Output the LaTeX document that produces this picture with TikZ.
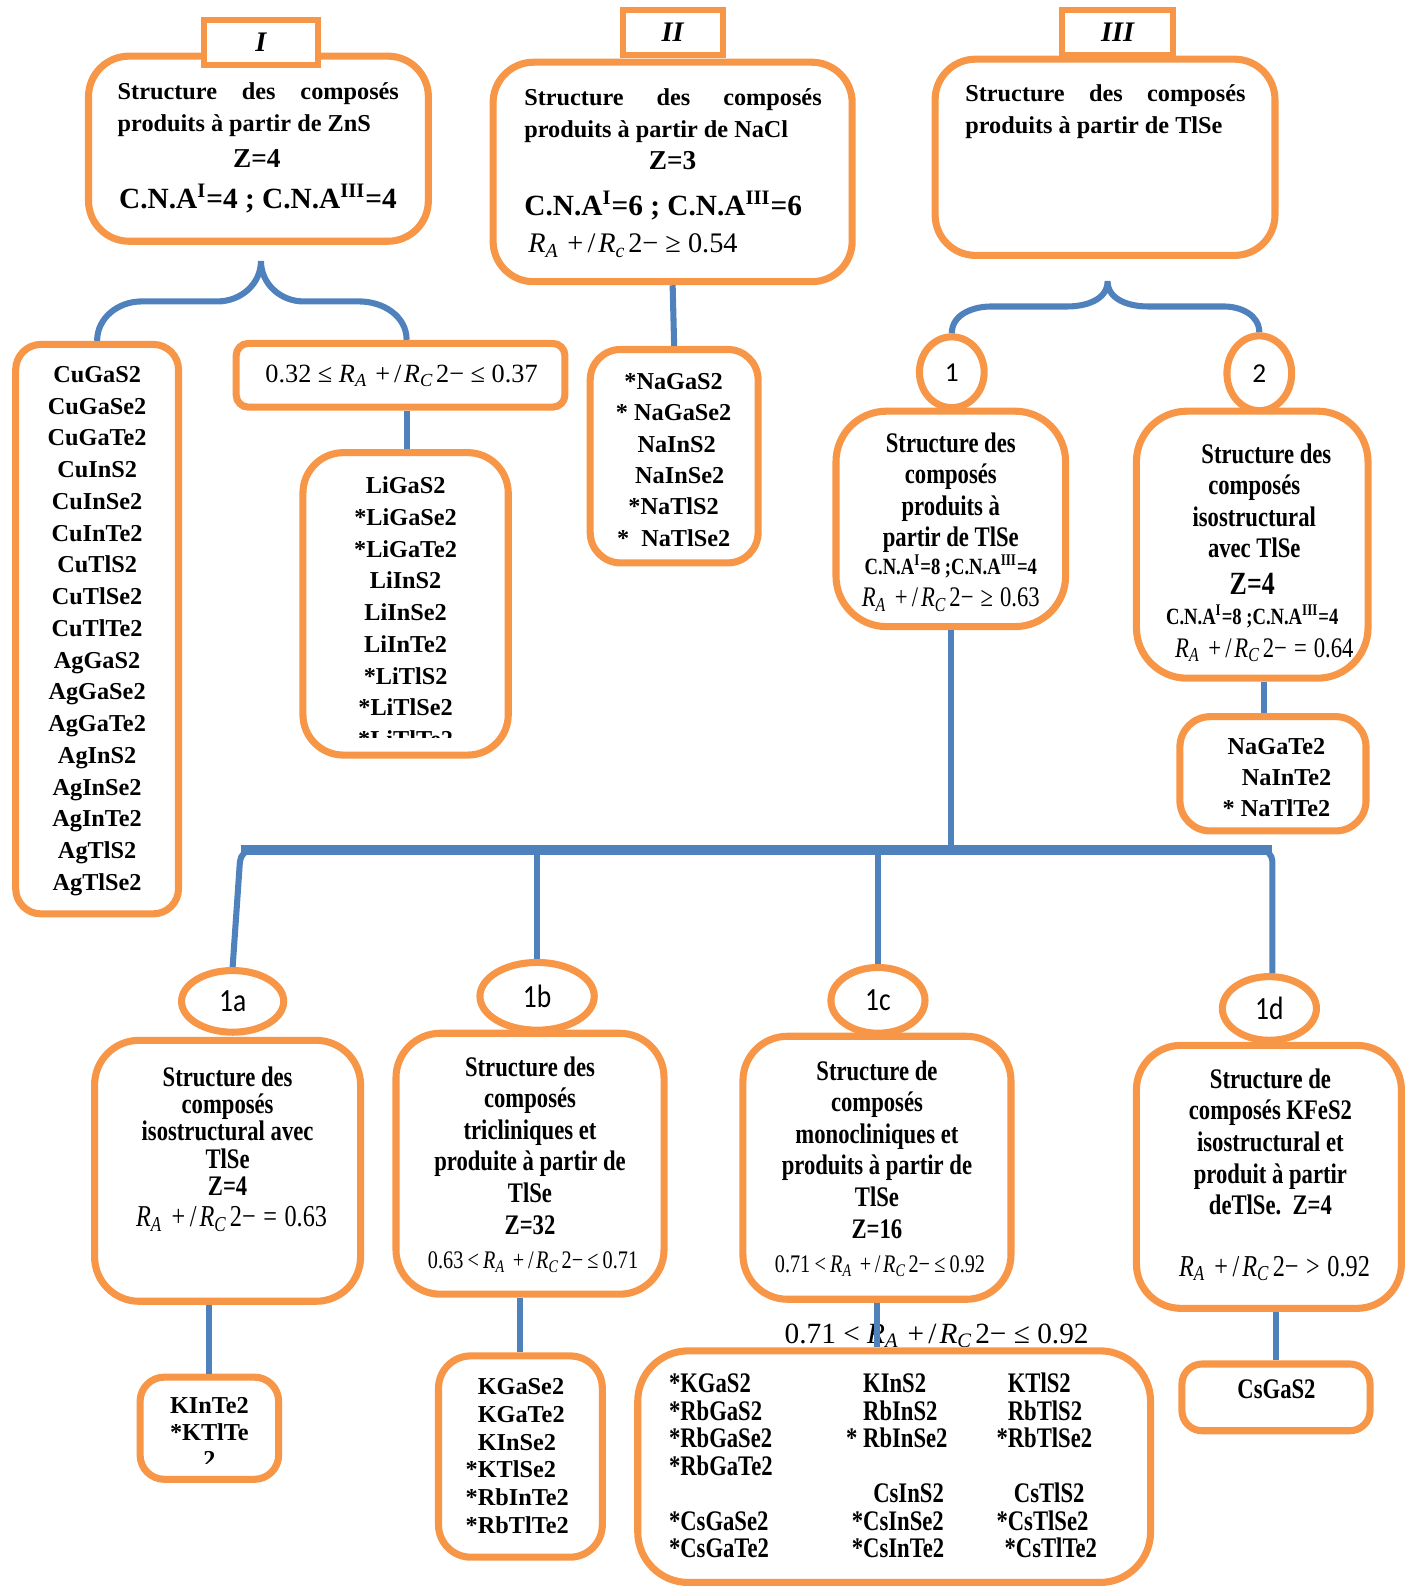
\documentclass[tikz,border=0pt]{standalone}
\usepackage{fontspec}
\usetikzlibrary{shapes.geometric}
\setmainfont{Liberation Serif}
\newfontfamily\narrowfont[FakeStretch=0.8]{Liberation Serif}
\newfontfamily\numfont{Carlito}
\newfontfamily\narrownum[FakeStretch=0.85]{Carlito}
\definecolor{boxorange}{HTML}{F79646}
\definecolor{linkblue}{HTML}{4F81BD}
\newcommand{\rapport}[1]{\textit{R}\textsubscript{\textit{A}}\hspace{.3em}+\hspace{.15em}/\hspace{.1em}\textit{R}\textsubscript{\textit{#1}}\hspace{.1em}2−}
\newcommand{\relsym}[1]{\hspace{.25em}#1\hspace{.25em}}
\newcommand{\starmark}{\leavevmode\llap{*}}

\begin{document}
\begin{tikzpicture}[x=0.5pt,y=-0.5pt,
  box/.style={draw=boxorange,line width=3.5pt,rounded corners=20pt,fill=white,inner sep=0pt},
  tab/.style={draw=boxorange,line width=3pt,fill=white,inner sep=0pt,font=\bfseries\itshape\fontsize{14}{14}\selectfont},
  oval/.style={ellipse,draw=boxorange,line width=3.5pt,fill=white,inner sep=0pt},
  link/.style={draw=linkblue,line width=3pt},
  body/.style={inner sep=0pt,font=\bfseries\fontsize{12}{16}\selectfont},
  list/.style={inner sep=0pt,align=flush center,font=\bfseries\fontsize{12}{15.7}\selectfont},
  narrow/.style={inner sep=0pt,align=flush center,font=\narrowfont\bfseries\fontsize{14}{15.6}\selectfont},
  ratiotext/.style={inner sep=0pt,font=\mdseries\fontsize{13}{13}\selectfont},
  ]
\useasboundingbox (0,0) rectangle (1389,1568);

% top row
\node[box,minimum width=168pt,minimum height=91.5pt] (zns) at (255.5,147) {};
\node[body,anchor=base west,text width=139pt,align=flush left] (znstext) at (116,98) {Structure\hfill des\hfill composés\\produits à partir de ZnS\hspace*{\fill}};
\node[body,anchor=base,font=\bfseries\fontsize{13.5}{13.5}\selectfont] (znsz) at (254,166) {Z=4};
\node[body,anchor=base,font=\bfseries\fontsize{14.5}{14.5}\selectfont] (znscn) at (255,206) {C.N.A\textsuperscript{I}=4 ; C.N.A\textsuperscript{III}=4};
\node[tab,minimum width=56.5pt,minimum height=22.5pt] (tabI) at (258,42) {I};

\node[box,minimum width=177.5pt,minimum height=108.5pt] (nacl) at (665,170) {};
\node[body,anchor=base west,text width=147pt,align=flush left] (nacltext) at (518,104) {Structure\hfill des\hfill composés\\produits à partir de NaCl\hspace*{\fill}};
\node[body,anchor=base,font=\bfseries\fontsize{13.5}{13.5}\selectfont] (naclz) at (665,168) {Z=3};
\node[body,anchor=base west,font=\bfseries\fontsize{14.5}{14.5}\selectfont] (naclcn) at (518,213) {C.N.A\textsuperscript{I}=6 ; C.N.A\textsuperscript{III}=6};
\node[ratiotext,anchor=base west,font=\mdseries\fontsize{14}{14}\selectfont] (naclr) at (522,250) {\rapport{c}\relsym{≥}0.54};
\node[tab,minimum width=49.5pt,minimum height=22.5pt] (tabII) at (665,32) {II};

\node[box,minimum width=168pt,minimum height=97pt] (tlse) at (1092.5,155.5) {};
\node[body,anchor=base west,text width=138.5pt,align=flush left] (tlsetext) at (954,100) {Structure\hfill des\hfill composés\\produits à partir de TlSe\hspace*{\fill}};
\node[tab,minimum width=55pt,minimum height=22.5pt] (tabIII) at (1105,32) {III};

% ZnS branch
\node[box,rounded corners=12.5pt,minimum width=80.5pt,minimum height=281.5pt] (cu) at (96,622) {};
\node[list,anchor=base,text width=78pt] (culist) at (96,378) {CuGaS2\\CuGaSe2\\CuGaTe2\\CuInS2\\CuInSe2\\CuInTe2\\CuTlS2\\CuTlSe2\\CuTlTe2\\AgGaS2\\AgGaSe2\\AgGaTe2\\AgInS2\\AgInSe2\\AgInTe2\\AgTlS2\\AgTlSe2};

\node[box,rounded corners=6pt,minimum width=162.5pt,minimum height=31.5pt] (low) at (396,371) {};
\node[ratiotext,anchor=base] (lowtext) at (397,378) {0.32\relsym{≤}\rapport{C}\relsym{≤}0.37};

\node[box,minimum width=101.5pt,minimum height=149.5pt] (li) at (401,597) {};
\begin{scope}
  \clip (300,450) rectangle (500,729);
  \node[list,anchor=base,text width=100pt] (lilist) at (401,488) {LiGaS2\\{*}LiGaSe2\\{*}LiGaTe2\\LiInS2\\LiInSe2\\LiInTe2\\{*}LiTlS2\\{*}LiTlSe2\\{*}LiTlTe2};
\end{scope}

% NaCl branch
\node[box,rounded corners=15pt,minimum width=83pt,minimum height=105.5pt] (na) at (666.5,451) {};
\begin{scope}
  \clip (585,350) rectangle (750,542);
  \node[list,anchor=base,text width=80pt,font=\bfseries\fontsize{12}{15.5}\selectfont] (nalist) at (666,385) {*NaGaS2\\{*} NaGaSe2\\\hspace*{3pt}NaInS2\\\hspace*{6pt}NaInSe2\\{*}NaTlS2\\{*}\hspace*{6pt}NaTlSe2};
\end{scope}

% TlSe branch
\node[box,rounded corners=25pt,minimum width=113.5pt,minimum height=106.5pt] (tl1) at (940,513) {};
\node[narrow,anchor=base,text width=110pt] (tl1text) at (940,447) {Structure des\\composés\\produits à\\partir de TlSe};
\node[inner sep=0pt,anchor=base,font=\narrowfont\bfseries\fontsize{11.5}{11.5}\selectfont] (tl1cn) at (940,568) {C.N.A\textsuperscript{I}=8 ;C.N.A\textsuperscript{III}=4};
\node[inner sep=0pt,anchor=base,font=\narrowfont\fontsize{14}{14}\selectfont] (tl1r) at (940,600) {\rapport{C}\relsym{≥}0.63};

\node[box,rounded corners=25pt,minimum width=114.5pt,minimum height=132pt] (tl2) at (1238,538.5) {};
\node[narrow,anchor=base,text width=110pt] (tl2text) at (1240,458) {\hspace*{12pt}Structure des\\composés\\isostructural\\avec TlSe};
\node[inner sep=0pt,anchor=base,font=\narrowfont\bfseries\fontsize{16}{16}\selectfont] (tl2z) at (1238,588) {Z=4};
\node[inner sep=0pt,anchor=base,font=\narrowfont\bfseries\fontsize{11.5}{11.5}\selectfont] (tl2cn) at (1238,617) {C.N.A\textsuperscript{I}=8 ;C.N.A\textsuperscript{III}=4};
\node[inner sep=0pt,anchor=base,font=\narrowfont\fontsize{14}{14}\selectfont] (tl2r) at (1250,650) {\rapport{C}\relsym{=}0.64};

\node[oval,minimum width=32pt,minimum height=35pt,font=\numfont\fontsize{13.5}{13.5}\selectfont] (c1) at (941,368) {1};
\node[oval,minimum width=32pt,minimum height=37pt,font=\numfont\fontsize{13.5}{13.5}\selectfont] (c2) at (1245,369) {2};

\node[box,rounded corners=15pt,minimum width=92pt,minimum height=56.5pt] (nate) at (1258.5,765) {};
\begin{scope}
  \clip (1168,710) rectangle (1349,810);
  \node[list,anchor=base,text width=90pt,font=\bfseries\fontsize{12}{15.3}\selectfont] (natelist) at (1262,746) {NaGaTe2\\\hspace*{10pt}NaInTe2\\{*} NaTlTe2};
\end{scope}

% second level of TlSe (1)
\coordinate (barL) at (238,840);
\coordinate (barR) at (1258,840);

\node[box,rounded corners=22pt,minimum width=131.5pt,minimum height=129pt] (b1a) at (225,1157.5) {};
\node[narrow,anchor=base,text width=128pt,font=\narrowfont\bfseries\fontsize{14}{13.5}\selectfont] (b1atext) at (225,1074) {Structure des\\composés\\isostructural avec\\TlSe\\Z=4};
\node[inner sep=0pt,anchor=base,font=\narrowfont\fontsize{15}{15}\selectfont] (b1ar) at (229,1213) {\rapport{C}\relsym{=}0.63};

\node[box,rounded corners=22pt,minimum width=132.5pt,minimum height=129pt] (b1b) at (524,1150.5) {};
\node[narrow,anchor=base,text width=130pt] (b1btext) at (524,1064) {Structure des\\composés\\tricliniques et\\produite à partir de\\TlSe\\Z=32};
\node[inner sep=0pt,anchor=base,font=\narrowfont\fontsize{12.5}{12.5}\selectfont] (b1br) at (527,1254) {0.63\,<\,\rapport{C}\,≤\,0.71};

\node[box,rounded corners=22pt,minimum width=132.5pt,minimum height=130pt] (b1c) at (867,1154.5) {};
\node[narrow,anchor=base,text width=130pt] (b1ctext) at (867,1068) {Structure de\\composés\\monocliniques et\\produits à partir de\\TlSe\\Z=16};
\node[inner sep=0pt,anchor=base,font=\narrowfont\fontsize{12.5}{12.5}\selectfont] (b1cr) at (870,1258) {0.71\,<\,\rapport{C}\,≤\,0.92};

\node[box,rounded corners=22pt,minimum width=131pt,minimum height=130pt] (b1d) at (1254.5,1163.5) {};
\node[narrow,anchor=base,text width=128pt] (b1dtext) at (1256,1076) {Structure de\\composés KFeS2\\isostructural et\\produit à partir\\deTlSe.\ \ Z=4};
\node[inner sep=0pt,anchor=base,font=\narrowfont\fontsize{15}{15}\selectfont] (b1dr) at (1260,1262) {\rapport{C}\relsym{>}0.92};

\node[oval,minimum width=50.5pt,minimum height=30.5pt,font=\narrownum\fontsize{16}{16}\selectfont] (e1a) at (230,990) {1a};
\node[oval,minimum width=56.5pt,minimum height=33.5pt,font=\narrownum\fontsize{16}{16}\selectfont] (e1b) at (531,985) {1b};
\node[oval,minimum width=46.5pt,minimum height=32.5pt,font=\narrownum\fontsize{16}{16}\selectfont] (e1c) at (868,989) {1c};
\node[oval,minimum width=46.5pt,minimum height=31.5pt,font=\narrownum\fontsize{16}{16}\selectfont] (e1d) at (1255,997) {1d};

% compound lists, bottom
\node[box,rounded corners=12pt,minimum width=68.5pt,minimum height=50.5pt] (kinte) at (207,1412) {};
\begin{scope}
  \clip (140,1365) rectangle (274,1447);
  \node[list,anchor=base,text width=66pt,font=\bfseries\fontsize{12}{13.5}\selectfont] (kintelist) at (207,1397) {KInTe2\\{*}KTlTe\\2};
\end{scope}

\node[box,rounded corners=16pt,minimum width=81pt,minimum height=99.5pt] (kgase) at (514.5,1440) {};
\node[list,anchor=base west,text width=60pt,align=flush left,font=\bfseries\fontsize{12}{13.7}\selectfont] (kgaselist) at (472,1379) {KGaSe2\\KGaTe2\\KInSe2\\\starmark KTlSe2\\\starmark RbInTe2\\\starmark RbTlTe2};

\node[inner sep=0pt,anchor=base,font=\mdseries\fontsize{14.5}{14.5}\selectfont] (midr) at (926,1328) {0.71\relsym{<}\rapport{C}\relsym{≤}0.92};
\node[box,rounded corners=25pt,minimum width=253.5pt,minimum height=114.5pt] (big) at (884,1450) {};
\node[inner sep=0pt,anchor=base west,text width=60pt,align=flush left,font=\narrowfont\bfseries\fontsize{14}{13.6}\selectfont] (colGa) at (661,1377) {*KGaS2\\{*}RbGaS2\\{*}RbGaSe2\\{*}RbGaTe2\\\mbox{}\\{*}CsGaSe2\\{*}CsGaTe2};
\node[inner sep=0pt,anchor=base west,text width=60pt,align=flush left,font=\narrowfont\bfseries\fontsize{14}{13.6}\selectfont] (colIn) at (853,1377) {KInS2\\RbInS2\\\leavevmode\llap{*\ }RbInSe2\\\mbox{}\\\hspace*{5pt}CsInS2\\\starmark CsInSe2\\\starmark CsInTe2};
\node[inner sep=0pt,anchor=base west,text width=60pt,align=flush left,font=\narrowfont\bfseries\fontsize{14}{13.6}\selectfont] (colTl) at (996,1377) {KTlS2\\RbTlS2\\\starmark RbTlSe2\\\mbox{}\\\hspace*{3pt}CsTlS2\\\starmark CsTlSe2\\\hspace*{4pt}\starmark CsTlTe2};

\node[box,rounded corners=10pt,minimum width=93pt,minimum height=33pt] (csgas) at (1261.5,1381.5) {};
\node[inner sep=0pt,anchor=base,font=\narrowfont\bfseries\fontsize{14}{14}\selectfont] (csgastext) at (1262,1383) {CsGaS2};

% connectors
\coordinate (braceI) at (258,258);
\draw[link] (cu.north) to[out=90,in=180] (140,298) -- (215,298) to[out=0,in=-90] (braceI)
  to[out=-90,in=180] (300,298) -- (355,298) to[out=0,in=90] ([xshift=3pt]low.north);
\coordinate (braceIII) at (1095,278);
\draw[link] (c1.north) to[out=90,in=180] (980,303) -- (1055,303) to[out=0,in=-90] (braceIII)
  to[out=-90,in=180] (1135,303) -- (1210,303) to[out=0,in=90] (c2.north);

\draw[link] (nacl.south) -- (na.north);
\draw[link] ([xshift=3pt]low.south) -- ([xshift=3pt]low.south |- li.north);
\draw[link] ([xshift=6pt]tl2.south) -- ([xshift=6pt]tl2.south |- nate.north);
\draw[link] (tl1.south) -- (tl1.south |- barL);
\draw[link,line width=5pt] (barL) -- (barR);
\draw[link,rounded corners=6pt] (e1a.north) -- (barL) -- ([xshift=10pt]barL);
\draw[link] (e1b.north) -- (e1b.north |- barL);
\draw[link] (e1c.north) -- (e1c.north |- barL);
\draw[link,rounded corners=6pt] ([xshift=-10pt]barR) -- (barR) -- (barR |- e1d.north);

\draw[link] (kinte.north) -- (kinte.north |- b1a.south);
\draw[link] (kgase.north) -- (kgase.north |- b1b.south);
\draw[link] (b1c.south) -- (b1c.south |- big.north);
\draw[link] (csgas.north) -- (csgas.north |- b1d.south);
\end{tikzpicture}
\end{document}
